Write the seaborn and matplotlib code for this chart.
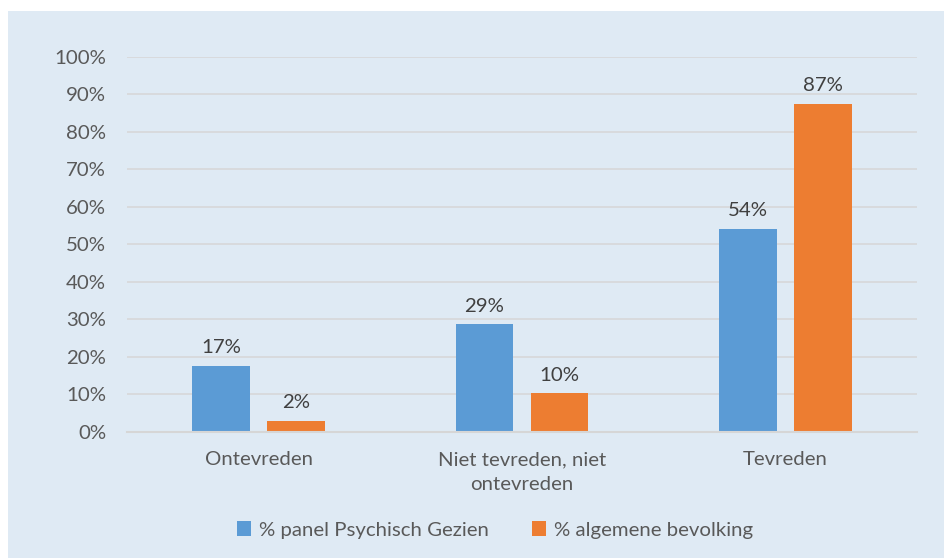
import matplotlib
matplotlib.use("Agg")
import matplotlib.pyplot as plt
import seaborn as sns
import pandas as pd
from matplotlib.patches import Patch, Rectangle
from matplotlib.ticker import PercentFormatter

categories = ["Ontevreden", "Niet tevreden, niet\nontevreden", "Tevreden"]
series_names = ["% panel Psychisch Gezien", "% algemene bevolking"]
panel_values = [17.6, 28.6, 54.0]
bevolking_values = [2.8, 10.2, 87.4]
panel_labels = ["17%", "29%", "54%"]
bevolking_labels = ["2%", "10%", "87%"]
yticks = [0, 10, 20, 30, 40, 50, 60, 70, 80, 90, 100]

colors = ["#5B9BD5", "#ED7D31"]
bg = "#DFEAF4"
text_col = "#595959"
label_col = "#404040"
grid_col = "#D6D6D6"
fs = 14.7

df = pd.DataFrame({
    "categorie": categories * 2,
    "reeks": [series_names[0]] * 3 + [series_names[1]] * 3,
    "waarde": panel_values + bevolking_values,
})

sns.set_theme(style="white")
plt.rcParams["font.family"] = ["Lato", "DejaVu Sans"]

fig = plt.figure(figsize=(9.45, 5.58), dpi=100)
fig.patch.set_facecolor("white")
fig.patches.append(Rectangle((8 / 945, 0), 1 - 8 / 945, 1 - 11 / 558,
                             transform=fig.transFigure, facecolor=bg,
                             edgecolor="none", zorder=-10))

ax = fig.add_axes([127 / 945, 1 - 431.7 / 558, 790 / 945, 375 / 558])
ax.set_facecolor("none")

sns.barplot(data=df, x="categorie", y="waarde", hue="reeks",
            hue_order=series_names, order=categories, palette=colors,
            width=0.57, gap=0.228, linewidth=0, saturation=1,
            legend=False, ax=ax)

for cont, labs in zip(ax.containers, [panel_labels, bevolking_labels]):
    ax.bar_label(cont, labels=labs, padding=7, fontsize=fs, color=label_col)

ax.set_xlim(-0.5, 2.5)
ax.set_ylim(0, 100)
ax.set_yticks(yticks)
ax.yaxis.set_major_formatter(PercentFormatter(decimals=0))
ax.grid(axis="y", color=grid_col, linewidth=1.1)
ax.set_axisbelow(True)
for s in ["top", "right", "left"]:
    ax.spines[s].set_visible(False)
ax.spines["bottom"].set_color(grid_col)
ax.spines["bottom"].set_linewidth(1.5)
ax.tick_params(axis="both", length=0, labelsize=fs, labelcolor=text_col)
ax.tick_params(axis="y", pad=15)
ax.tick_params(axis="x", pad=14)
ax.set_xlabel("")
ax.set_ylabel("")
for t in ax.get_xticklabels():
    t.set_linespacing(1.55)

handles = [Patch(facecolor=c, edgecolor="none") for c in colors]
leg = fig.legend(handles, series_names, loc="center", bbox_to_anchor=(495 / 945, 1 - 530 / 558),
                 ncol=2, frameon=False, fontsize=fs, handlelength=0.7, handleheight=0.7,
                 handletextpad=0.4, columnspacing=2.1, labelcolor=text_col)

fig.savefig("out.png", dpi=100, facecolor=fig.get_facecolor())
